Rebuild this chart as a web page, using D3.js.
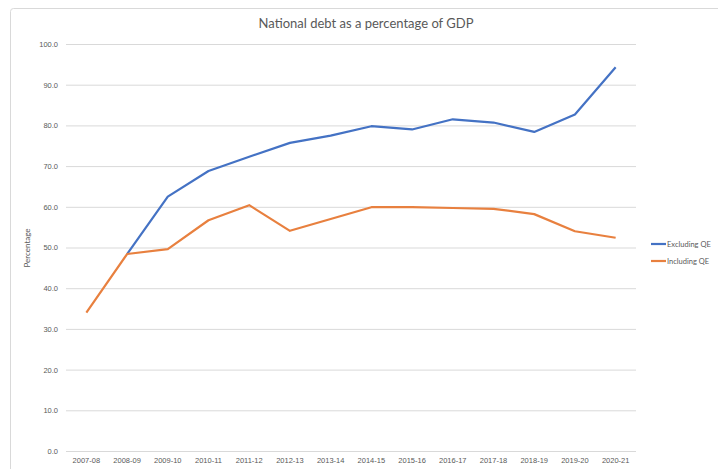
<!DOCTYPE html>
<html><head><meta charset="utf-8">
<script src="https://cdn.jsdelivr.net/npm/d3@7"></script>
<style>body{margin:0;background:#fff;}svg{display:block;font-family:Lato,"Open Sans",sans-serif;}</style>
</head><body>
<svg id="c" width="718" height="469"></svg>
<script>
const categories = ["2007-08","2008-09","2009-10","2010-11","2011-12","2012-13","2013-14","2014-15","2015-16","2016-17","2017-18","2018-19","2019-20","2020-21"];
const excludingQE = [null,48.4,62.5,68.8,72.3,75.7,77.5,79.8,79.0,81.5,80.7,78.4,82.7,94.3];
const includingQE = [34.0,48.4,49.6,56.7,60.4,54.1,57.0,59.9,59.9,59.7,59.5,58.2,54.0,52.4];
const yTicks = [0,10,20,30,40,50,60,70,80,90,100];
const seriesNames = ["Excluding QE","Including QE"];
const colors = ["#4472C4","#E8803F"];

const svg = d3.select("#c");
svg.append("rect").attr("x",10.5).attr("y",8.5).attr("width",720).attr("height",470).attr("rx",3)
  .attr("fill","#fff").attr("stroke","#d9d9d9");

const x0 = 66, x1 = 636, yTop = 44, yBot = 451;
const x = d3.scaleBand().domain(categories).range([x0,x1]);
const y = d3.scaleLinear().domain([0,100]).range([yBot,yTop]);

svg.append("text").attr("x",366).attr("y",28).attr("text-anchor","middle")
  .attr("font-size",13).attr("fill","#595959").text("National debt as a percentage of GDP");

const yAxis = d3.axisLeft(y).tickValues(yTicks).tickFormat(d3.format(".1f")).tickSize(-(x1-x0)).tickPadding(8);
const gy = svg.append("g").attr("transform",`translate(${x0},0)`).call(yAxis);
gy.select(".domain").remove();
gy.selectAll(".tick line").attr("stroke","#d9d9d9").attr("stroke-width",1);
gy.selectAll(".tick text").attr("fill","#595959").attr("font-size",7.5);

const xAxis = d3.axisBottom(x).tickSize(0).tickPadding(7);
const gx = svg.append("g").attr("transform",`translate(0,${yBot})`).call(xAxis);
gx.select(".domain").remove();
gx.selectAll(".tick text").attr("fill","#595959").attr("font-size",7.5);

svg.append("text").attr("transform",`translate(30,248) rotate(-90)`).attr("text-anchor","middle")
  .attr("font-size",8).attr("fill","#595959").text("Percentage");

const line = d3.line().defined(d=>d!=null).x((d,i)=>x(categories[i])+x.bandwidth()/2).y(d=>y(d));
[excludingQE, includingQE].forEach((s,k)=>{
  svg.append("path").datum(s).attr("d",line).attr("fill","none")
    .attr("stroke",colors[k]).attr("stroke-width",2.2).attr("stroke-linejoin","round");
});

seriesNames.forEach((n,k)=>{
  const ly = 244 + k*17;
  svg.append("line").attr("x1",651).attr("x2",666).attr("y1",ly).attr("y2",ly)
    .attr("stroke",colors[k]).attr("stroke-width",2.2);
  svg.append("text").attr("x",667).attr("y",ly+2.5).attr("font-size",7.5).attr("fill","#595959").text(n);
});
</script>
</body></html>
